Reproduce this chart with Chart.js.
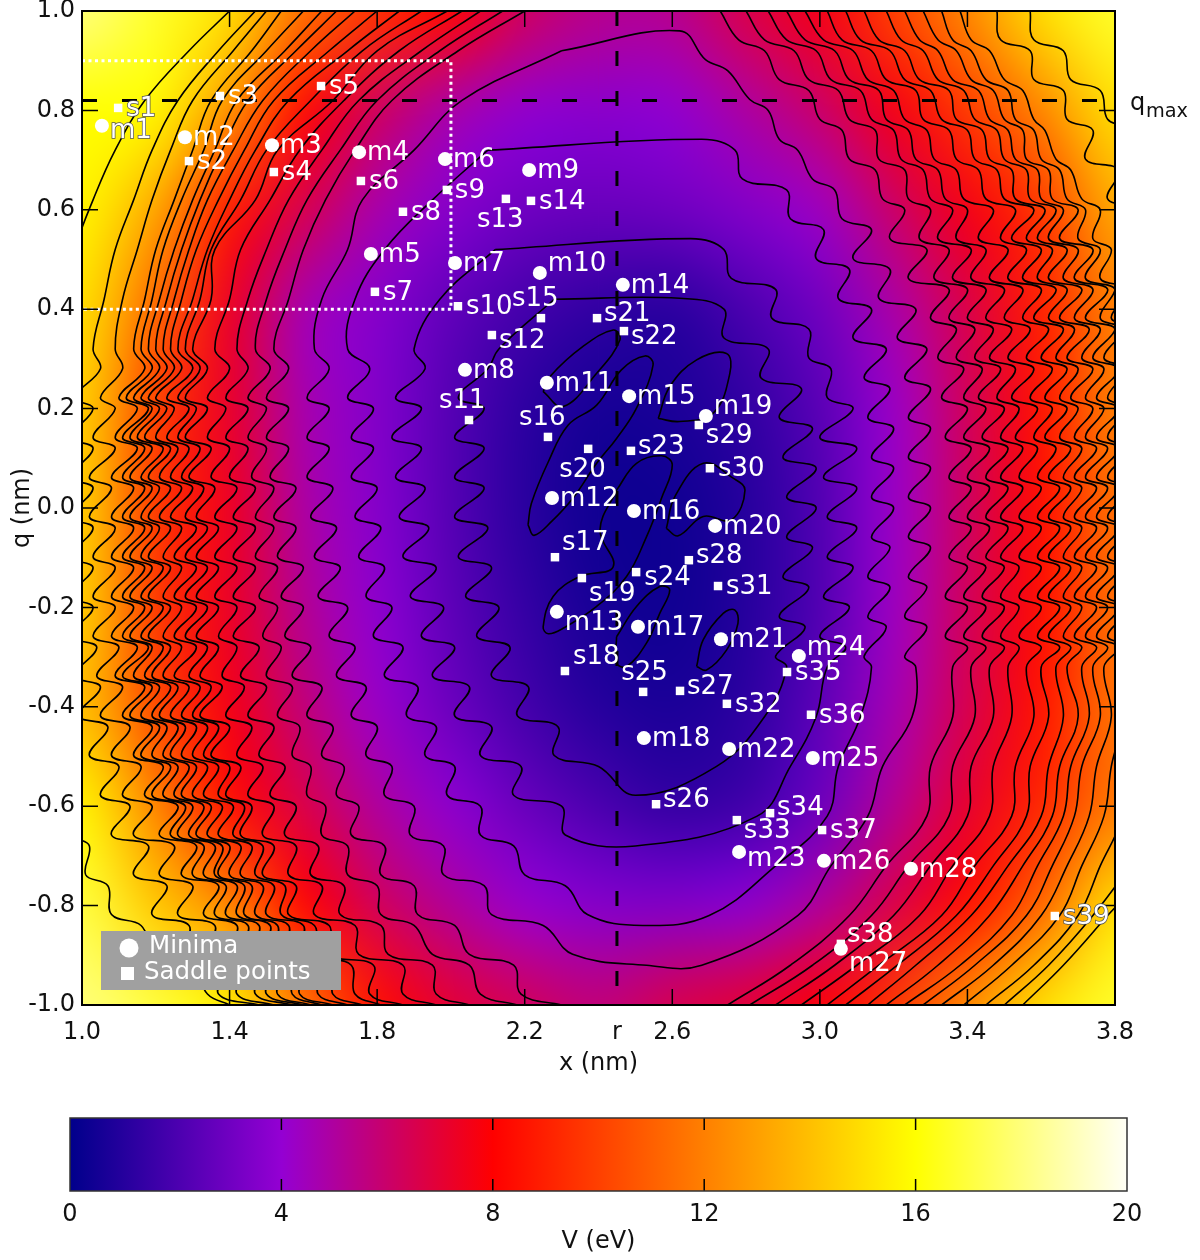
<!DOCTYPE html>
<html>
<head>
<meta charset="utf-8">
<script src="https://cdn.jsdelivr.net/npm/chart.js@4"></script>
<style>
  html, body { margin: 0; padding: 0; background: #fff; }
  #wrap { position: relative; width: 1200px; height: 1260px; }
  canvas { position: absolute; left: 0; }
</style>
</head>
<body>
<div id="wrap">
  <canvas id="main" width="1200" height="1085" style="top:0"></canvas>
  <canvas id="cbar" width="1200" height="170" style="top:1090px"></canvas>
</div>
<script>
// potential
const gridX = [1.0, 1.2, 1.4, 1.6, 1.8, 2.0, 2.2, 2.4, 2.6, 2.8, 3.0, 3.2, 3.4, 3.6, 3.8];
const gridQ = [1.0, 0.8, 0.6, 0.4, 0.2, 0.0, -0.2, -0.4, -0.6, -0.8, -1.0];
const gridV = [
  [18,16.7,15,11.5,9.5,8.2,6.2,5.3,5.3,6.6,7.6,10,12.3,15,16.7],
  [16,15.8,12.6,8.3,6.2,4.7,3.9,3.7,3.9,4.9,6,7.6,9.8,12.2,15],
  [15.7,13.2,8.8,6.5,4.7,3.6,3,2.8,3,3.5,4.3,6,7.6,9.7,13.3],
  [15,11.2,7.3,4.6,3.6,2.6,1.8,1.3,1.1,2,3,4.8,6.6,9,12],
  [14.5,10,7.2,4.7,3.5,2.3,1.2,.6,.7,1.3,2.4,4.2,6.3,8.6,12],
  [14.5,9.8,7.4,4.9,3.6,2.3,1.1,.4,.4,1,2.2,4.2,6.2,8.4,11.5],
  [14.5,9.8,7.3,5.2,3.8,2.5,1.4,.6,.4,1,2.2,4.3,6.3,8.4,11.5],
  [14,10.3,7.6,5.7,4.2,2.9,1.8,1,.7,1.2,2.5,4.6,6.5,8.6,11.6],
  [15.7,12.2,8.5,6.6,5,3.8,2.8,2,1.4,1.7,2.9,5.2,7.1,9.2,11.8],
  [17,14.3,12.2,8.2,6.3,5.1,4.1,3.6,3.5,3.8,5,6.6,8.5,11.2,15],
  [18,17,15.5,11.7,8.5,7,6.3,5.7,6.5,7,7.9,9.7,12.4,15,16.7]
];

const minimaNames = ['m1','m2','m3','m4','m5','m6','m7','m8','m9','m10','m11','m12','m13','m14','m15','m16','m17','m18','m19','m20','m21','m22','m23','m24','m25','m26','m27','m28'];
const minimaX = [1.054,1.279,1.515,1.751,1.783,1.984,2.011,2.038,2.212,2.241,2.260,2.274,2.287,2.466,2.483,2.496,2.507,2.523,2.691,2.716,2.732,2.754,2.781,2.943,2.981,3.011,3.057,3.247];
const minimaQ = [0.769,0.746,0.730,0.716,0.511,0.702,0.493,0.278,0.680,0.473,0.252,0.020,-0.209,0.449,0.225,-0.006,-0.239,-0.463,0.185,-0.036,-0.264,-0.485,-0.692,-0.298,-0.503,-0.710,-0.887,-0.726];

const saddleNames = ['s1','s2','s3','s4','s5','s6','s7','s8','s9','s10','s11','s12','s13','s14','s15','s16','s17','s18','s19','s20','s21','s22','s23','s24','s25','s26','s27','s28','s29','s30','s31','s32','s33','s34','s35','s36','s37','s38','s39'];
const saddleX = [1.098,1.290,1.374,1.520,1.648,1.756,1.794,1.870,1.989,2.019,2.049,2.111,2.149,2.217,2.244,2.263,2.282,2.309,2.355,2.372,2.396,2.469,2.488,2.502,2.521,2.556,2.621,2.645,2.672,2.702,2.724,2.748,2.775,2.865,2.911,2.976,3.006,3.057,3.637];
const saddleQ = [0.805,0.698,0.829,0.676,0.849,0.658,0.435,0.596,0.640,0.406,0.177,0.348,0.622,0.618,0.382,0.143,-0.099,-0.328,-0.141,0.119,0.382,0.356,0.115,-0.129,-0.370,-0.596,-0.368,-0.105,0.167,0.080,-0.157,-0.394,-0.628,-0.614,-0.330,-0.416,-0.648,-0.877,-0.821];

const qMax = 0.82;
const rValue = 2.45;
const boxX = [1.0, 2.0, 2.0, 1.0];
const boxQ = [0.9, 0.9, 0.4, 0.4];
const xTicks = [1.0, 1.4, 1.8, 2.2, 2.6, 3.0, 3.4, 3.8];
const qTicks = [1.0, 0.8, 0.6, 0.4, 0.2, 0.0, -0.2, -0.4, -0.6, -0.8, -1.0];
const cbarTicks = [0, 4, 8, 12, 16, 20];
const cbarStops = [0, 4, 8, 16, 20];
const cbarColors = ['#00008b', '#9400d3', '#ff0000', '#ffff00', '#fffff6'];

// contour lines, traced by eye: x of each line at the q rows below
const leftRows = [1,.92,.82,.72,.62,.52,.42,.32,.28,.222,.2,.142,.12,.062,.04,-.018,-.04,-.098,-.12,-.178,-.2,-.258,-.28,-.338,-.36,-.418,-.44,-.498,-.52,-.578,-.6,-.658,-.68,-.738,-.76,-.818,-.84,-.898,-.92,-.978,-1];
const rightRows = [1,.942,.92,.862,.84,.782,.76,.702,.68,.622,.6,.542,.52,.462,.44,.382,.36,.302,.28,.222,.2,.142,.12,.062,.04,-.018,-.04,-.098,-.12,-.178,-.2,-.258,-.28,-.32,-.42,-.52,-.62,-.72,-.82,-.92,-1];
const rightRowsInner = [1,.96,.902,.88,.822,.8,.742,.72,.662,.64,.582,.56,.502,.48,.422,.4,.342,.32,.262,.24,.182,.16,.102,.08,.022,0,-.058,-.08,-.138,-.16,-.218,-.24,-.298,-.32,-.42,-.52,-.62,-.72,-.82,-.92,-1];

const left16 = [1.40,1.29,1.17,1.09,1.03,.98,.95,.93,.92,.90,.92,.90,.92,.90,.92,.90,.92,.90,.92,.90,.92,.90,.92,.90,.92,.90,.93,.93,.96,.95,.99,.98,1.02,1.01,1.07,1.08,1.16,1.2,1.3,1.34,1.4];
const left14 = [1.47,1.37,1.26,1.19,1.14,1.09,1.06,1.03,1.05,.98,1.03,.97,1.03,.97,1.03,.97,1.03,.97,1.03,.97,1.03,.97,1.04,.98,1.05,.99,1.07,1.02,1.10,1.05,1.13,1.08,1.18,1.14,1.23,1.19,1.29,1.28,1.39,1.37,1.48];
const left13 = [1.50,1.41,1.30,1.24,1.19,1.15,1.11,1.09,1.11,1.05,1.09,1.03,1.09,1.02,1.08,1.02,1.09,1.03,1.09,1.03,1.09,1.03,1.10,1.04,1.11,1.05,1.13,1.08,1.16,1.11,1.19,1.14,1.25,1.21,1.30,1.26,1.36,1.34,1.44,1.42,1.52];
const left12 = [1.54,1.46,1.35,1.3,1.25,1.2,1.17,1.14,1.17,1.10,1.15,1.09,1.15,1.08,1.14,1.08,1.14,1.08,1.14,1.08,1.14,1.08,1.15,1.09,1.17,1.11,1.19,1.14,1.22,1.17,1.26,1.21,1.31,1.27,1.37,1.33,1.42,1.40,1.49,1.47,1.57];
const left115 = [1.6,1.5,1.38,1.33,1.27,1.22,1.19,1.16,1.19,1.12,1.18,1.11,1.17,1.11,1.17,1.11,1.17,1.11,1.17,1.11,1.17,1.11,1.18,1.11,1.19,1.13,1.21,1.16,1.24,1.19,1.28,1.24,1.33,1.30,1.39,1.36,1.45,1.43,1.52,1.50,1.60];
const left11 = [1.65,1.55,1.42,1.36,1.3,1.25,1.21,1.18,1.21,1.14,1.19,1.13,1.19,1.13,1.19,1.13,1.19,1.13,1.19,1.13,1.19,1.13,1.19,1.14,1.21,1.16,1.23,1.19,1.26,1.22,1.3,1.26,1.36,1.33,1.42,1.39,1.48,1.46,1.55,1.53,1.62];
const left105 = [1.69,1.58,1.45,1.38,1.32,1.27,1.23,1.2,1.23,1.16,1.21,1.15,1.22,1.16,1.21,1.16,1.21,1.16,1.22,1.16,1.22,1.16,1.22,1.17,1.24,1.19,1.26,1.22,1.29,1.25,1.33,1.29,1.38,1.36,1.44,1.42,1.51,1.49,1.58,1.57,1.65];
const left10 = [1.74,1.62,1.49,1.41,1.34,1.29,1.25,1.22,1.25,1.18,1.23,1.17,1.24,1.18,1.24,1.18,1.24,1.18,1.24,1.18,1.24,1.18,1.24,1.19,1.26,1.21,1.28,1.24,1.31,1.27,1.35,1.31,1.4,1.37,1.46,1.44,1.53,1.52,1.61,1.59,1.68];
const left95 = [1.8,1.67,1.52,1.44,1.37,1.31,1.27,1.24,1.27,1.2,1.25,1.2,1.26,1.21,1.27,1.21,1.27,1.22,1.27,1.22,1.27,1.22,1.27,1.22,1.29,1.24,1.31,1.27,1.34,1.3,1.38,1.34,1.43,1.4,1.49,1.47,1.56,1.55,1.65,1.64,1.72];
const left9 = [1.86,1.72,1.56,1.47,1.4,1.34,1.3,1.26,1.3,1.23,1.29,1.23,1.29,1.24,1.3,1.24,1.31,1.25,1.31,1.25,1.31,1.25,1.31,1.25,1.32,1.27,1.34,1.3,1.37,1.33,1.41,1.37,1.46,1.43,1.52,1.5,1.6,1.59,1.69,1.68,1.76];
const left85 = [1.92,1.76,1.62,1.5,1.43,1.35,1.32,1.28,1.32,1.26,1.31,1.26,1.32,1.27,1.33,1.28,1.34,1.28,1.34,1.28,1.34,1.28,1.34,1.29,1.35,1.3,1.37,1.33,1.4,1.37,1.44,1.41,1.49,1.47,1.55,1.54,1.63,1.64,1.73,1.74,1.81];
const left8 = [1.99,1.80,1.68,1.53,1.47,1.36,1.35,1.30,1.34,1.28,1.34,1.28,1.35,1.29,1.36,1.31,1.37,1.31,1.37,1.31,1.37,1.31,1.37,1.32,1.38,1.32,1.4,1.35,1.43,1.39,1.46,1.43,1.52,1.49,1.58,1.56,1.67,1.67,1.79,1.78,1.87];
const left75 = [2.03,1.86,1.71,1.59,1.51,1.43,1.4,1.36,1.4,1.34,1.39,1.34,1.4,1.35,1.42,1.36,1.42,1.36,1.42,1.36,1.42,1.37,1.42,1.38,1.44,1.39,1.46,1.42,1.49,1.45,1.52,1.49,1.58,1.56,1.65,1.63,1.74,1.75,1.87,1.87,1.96];
const left7 = [2.08,1.92,1.75,1.65,1.56,1.5,1.45,1.42,1.45,1.39,1.45,1.39,1.45,1.4,1.47,1.41,1.47,1.41,1.47,1.41,1.47,1.41,1.48,1.43,1.5,1.45,1.52,1.48,1.55,1.51,1.58,1.55,1.64,1.62,1.71,1.7,1.81,1.83,1.95,1.96,2.05];
const left65 = [2.14,1.97,1.8,1.7,1.61,1.55,1.5,1.47,1.51,1.45,1.5,1.45,1.5,1.46,1.52,1.47,1.52,1.47,1.53,1.48,1.53,1.49,1.54,1.5,1.57,1.53,1.59,1.57,1.62,1.61,1.66,1.65,1.72,1.72,1.8,1.81,1.9,1.95,2.05,2.08,2.18];
const left6 = [2.2,2.02,1.84,1.74,1.66,1.6,1.56,1.52,1.56,1.5,1.56,1.5,1.56,1.51,1.58,1.52,1.58,1.53,1.6,1.54,1.6,1.55,1.62,1.57,1.65,1.61,1.68,1.65,1.71,1.69,1.75,1.73,1.82,1.81,1.9,1.91,2.01,2.05,2.17,2.19,2.3];

const right14 = [3.57,3.58,3.66,3.68,3.76,3.78,3.84,3.84,3.9,3.9,3.95,3.95,3.95,3.95,3.95,3.95,3.95,3.95,3.95,3.95,3.95,3.95,3.95,3.95,3.95,3.95,3.95,3.95,3.95,3.95,3.95,3.95,3.95,3.95,3.95,3.95,3.95,3.9,3.78,3.66,3.55];
const right13 = [3.48,3.49,3.57,3.58,3.66,3.67,3.74,3.72,3.81,3.78,3.87,3.84,3.9,3.95,3.95,3.95,3.95,3.95,3.95,3.95,3.95,3.95,3.95,3.95,3.95,3.95,3.95,3.95,3.95,3.95,3.95,3.95,3.95,3.95,3.95,3.95,3.92,3.84,3.74,3.62,3.5];
const right12 = [3.38,3.41,3.46,3.5,3.55,3.58,3.61,3.64,3.68,3.71,3.76,3.74,3.79,3.76,3.84,3.79,3.86,3.8,3.86,3.8,3.87,3.81,3.87,3.82,3.88,3.82,3.88,3.82,3.88,3.82,3.88,3.82,3.88,3.84,3.86,3.83,3.82,3.76,3.7,3.58,3.45];
const right115 = [3.33,3.36,3.41,3.45,3.51,3.53,3.58,3.6,3.65,3.67,3.72,3.7,3.76,3.72,3.8,3.76,3.82,3.77,3.83,3.78,3.83,3.78,3.84,3.78,3.84,3.78,3.84,3.78,3.84,3.78,3.84,3.78,3.84,3.8,3.82,3.79,3.77,3.71,3.65,3.52,3.39];
const right11 = [3.28,3.32,3.37,3.41,3.47,3.5,3.55,3.56,3.62,3.63,3.7,3.65,3.74,3.69,3.78,3.72,3.8,3.74,3.81,3.75,3.81,3.75,3.81,3.75,3.81,3.75,3.81,3.75,3.81,3.75,3.81,3.75,3.81,3.77,3.79,3.75,3.73,3.67,3.6,3.47,3.33];
const right105 = [3.23,3.27,3.32,3.36,3.43,3.46,3.51,3.53,3.59,3.6,3.66,3.62,3.7,3.66,3.74,3.69,3.76,3.71,3.77,3.72,3.77,3.72,3.78,3.72,3.78,3.72,3.78,3.72,3.78,3.72,3.78,3.72,3.78,3.74,3.76,3.71,3.69,3.63,3.56,3.42,3.28];
const right10 = [3.18,3.22,3.28,3.32,3.39,3.42,3.48,3.5,3.56,3.57,3.64,3.59,3.67,3.62,3.71,3.65,3.73,3.67,3.74,3.68,3.74,3.69,3.75,3.69,3.75,3.69,3.75,3.69,3.75,3.69,3.75,3.69,3.75,3.71,3.73,3.68,3.66,3.59,3.52,3.38,3.23];
const right95 = [3.12,3.16,3.23,3.27,3.35,3.37,3.44,3.46,3.52,3.53,3.61,3.56,3.63,3.59,3.67,3.62,3.69,3.64,3.7,3.65,3.7,3.65,3.71,3.66,3.71,3.66,3.71,3.66,3.71,3.66,3.71,3.66,3.71,3.67,3.7,3.65,3.63,3.55,3.46,3.32,3.18];
const right9 = [3.07,3.11,3.19,3.23,3.3,3.33,3.4,3.42,3.48,3.5,3.58,3.52,3.6,3.55,3.64,3.58,3.66,3.6,3.67,3.61,3.67,3.61,3.68,3.62,3.68,3.62,3.68,3.62,3.68,3.62,3.68,3.62,3.68,3.64,3.66,3.62,3.6,3.51,3.41,3.26,3.13];
const right85 = [3.02,3.06,3.14,3.18,3.26,3.28,3.35,3.37,3.43,3.45,3.53,3.49,3.56,3.51,3.6,3.55,3.62,3.56,3.63,3.57,3.63,3.58,3.64,3.59,3.65,3.59,3.65,3.59,3.65,3.59,3.65,3.59,3.65,3.6,3.62,3.57,3.56,3.47,3.37,3.21,3.07];
const right8 = [2.96,3.01,3.09,3.13,3.2,3.23,3.29,3.31,3.37,3.39,3.47,3.43,3.51,3.46,3.55,3.5,3.57,3.51,3.58,3.52,3.59,3.53,3.59,3.54,3.6,3.54,3.6,3.54,3.6,3.54,3.6,3.54,3.6,3.56,3.58,3.53,3.52,3.42,3.33,3.16,3.02];
const right75 = [2.91,2.96,3.04,3.08,3.16,3.18,3.24,3.26,3.32,3.34,3.4,3.37,3.45,3.41,3.5,3.45,3.52,3.46,3.53,3.48,3.54,3.49,3.55,3.49,3.55,3.49,3.55,3.49,3.54,3.49,3.54,3.49,3.54,3.51,3.52,3.47,3.46,3.36,3.27,3.1,2.95];
const right7 = [2.86,2.91,2.99,3.03,3.11,3.14,3.2,3.22,3.28,3.3,3.36,3.32,3.41,3.36,3.45,3.4,3.47,3.42,3.49,3.43,3.5,3.44,3.51,3.45,3.51,3.45,3.51,3.45,3.5,3.44,3.5,3.44,3.5,3.46,3.47,3.41,3.4,3.3,3.2,3.04,2.88];
const right65 = [2.8,2.85,2.93,2.97,3.05,3.08,3.15,3.16,3.23,3.24,3.3,3.27,3.35,3.31,3.4,3.35,3.42,3.37,3.44,3.39,3.45,3.39,3.46,3.4,3.46,3.4,3.46,3.4,3.45,3.39,3.45,3.39,3.45,3.41,3.42,3.36,3.35,3.24,3.14,2.98,2.81];
const right6 = [2.73,2.78,2.85,2.89,2.97,3.0,3.06,3.08,3.15,3.17,3.23,3.19,3.29,3.24,3.35,3.3,3.37,3.32,3.39,3.33,3.4,3.34,3.41,3.35,3.41,3.35,3.41,3.35,3.4,3.34,3.4,3.34,3.4,3.36,3.36,3.3,3.29,3.18,3.08,2.92,2.75];

// closed loops, each with the row its left and right parts start on
const loop5L = [2.3,2.03,1.9,1.76,1.72,1.65,1.63,1.67,1.61,1.67,1.61,1.67,1.61,1.68,1.62,1.69,1.63,1.7,1.64,1.72,1.67,1.74,1.69,1.77,1.73,1.8,1.77,1.84,1.82,1.9,1.89,1.98,1.98,2.09,2.11,2.25,2.33,2.53];
const loop5R = [2.62,2.69,2.75,2.81,2.86,2.89,2.94,2.98,3.04,3.06,3.14,3.09,3.19,3.16,3.26,3.21,3.29,3.23,3.3,3.24,3.3,3.24,3.3,3.24,3.3,3.24,3.3,3.24,3.29,3.23,3.29,3.23,3.26,3.25,3.17,3.13,3.03,2.94,2.68];
const loop4L = [2.1,1.95,1.82,1.74,1.72,1.78,1.72,1.79,1.73,1.79,1.73,1.8,1.74,1.81,1.75,1.82,1.77,1.84,1.79,1.87,1.82,1.91,1.88,1.96,1.93,2.01,1.99,2.08,2.08,2.17,2.2,2.31,2.37,2.52];
const loop4R = [2.68,2.77,2.79,2.91,2.92,3.01,2.99,3.08,3.05,3.14,3.09,3.18,3.12,3.19,3.13,3.2,3.14,3.2,3.14,3.2,3.14,3.19,3.13,3.19,3.13,3.18,3.12,3.14,3.11,3.05,3.02,2.88,2.7];
const loop3L = [2.12,1.97,1.9,1.93,1.85,1.92,1.84,1.92,1.85,1.93,1.86,1.94,1.87,1.96,1.89,1.98,1.92,2.01,1.95,2.05,2.01,2.11,2.08,2.19,2.17,2.3,2.31,2.5];
const loop3R = [2.65,2.74,2.76,2.88,2.87,2.97,2.97,3.03,3.02,3.09,3,3.1,3.01,3.1,3.02,3.1,3.02,3.09,3.01,3.08,3,3.07,3.02,2.99,2.92,2.83];
const loop2L = [2.28,2.13,2.1,2.02,2.09,2.01,2.09,2.01,2.09,2.01,2.1,2.02,2.11,2.04,2.13,2.07,2.16,2.11,2.21,2.18,2.29,2.28,2.4,2.5];
const loop2R = [2.62,2.74,2.74,2.86,2.84,2.95,2.89,2.98,2.9,2.99,2.91,2.99,2.91,2.98,2.9,2.97,2.89,2.96,2.88,2.91,2.85,2.72];

// small islands round the lowest minima, [x, q] pairs
const islands = [
  [2.209,-.034,2.225,-.055,2.273,-.027,2.331,.020,2.395,.090,2.449,.140,2.503,.201,2.548,.288,2.526,.306,2.462,.278,2.395,.207,2.318,.167,2.264,.093,2.218,.009],
  [2.449,.036,2.503,.090,2.571,.105,2.600,.087,2.571,.020,2.530,-.058,2.476,-.138,2.395,-.198,2.304,-.242,2.264,-.253,2.250,-.239,2.277,-.178,2.349,-.138,2.440,-.118,2.404,-.044],
  [2.584,-.041,2.607,.023,2.684,.090,2.765,.060,2.797,.036,2.760,-.024,2.684,-.017,2.616,-.056],
  [2.666,-.319,2.684,-.265,2.738,-.212,2.769,-.205,2.778,-.232,2.747,-.286,2.693,-.326],
  [2.449,-.259,2.503,-.198,2.566,-.158,2.593,-.165,2.566,-.212,2.530,-.272,2.476,-.319,2.449,-.312],
  [2.562,.180,2.593,.244,2.666,.298,2.747,.311,2.756,.271,2.711,.191,2.620,.174],
  [2.25,.234,2.268,.264,2.358,.325,2.44,.358,2.458,.338,2.395,.271,2.304,.204]
];

// label offsets from the marker, px, where it isn't the default right side
const labelOffset = {
  m1:[8,5], m10:[8,-9], m13:[8,11], m19:[8,-9], m23:[8,7], m24:[8,-8], m27:[8,15],
  s11:[-30,-19], s12:[7,6], s13:[-29,21], s15:[-29,-19], s16:[-29,-19], s17:[7,-14], s18:[8,-14],
  s19:[7,16], s20:[-29,21], s21:[7,-4], s22:[7,6], s23:[7,-4], s24:[8,6], s25:[-22,-19], s26:[7,-4],
  s27:[7,-4], s28:[7,-4], s29:[7,11], s33:[7,11], s34:[7,-5], s38:[6,-9]
};
const outlined = ['m1', 's1', 's39'];

function mapColor(v) {
  let i = 0;
  while (i < cbarStops.length - 2 && v > cbarStops[i + 1]) i++;
  const t = Math.min(1, Math.max(0, (v - cbarStops[i]) / (cbarStops[i + 1] - cbarStops[i])));
  const a = cbarColors[i], b = cbarColors[i + 1];
  const ch = (s, k) => parseInt(s.substr(1 + k * 2, 2), 16);
  return [0, 1, 2].map(k => Math.round(ch(a, k) + (ch(b, k) - ch(a, k)) * t));
}

const heatPlugin = {
  id: 'heat',
  beforeDatasetsDraw(chart) {
    const { ctx, chartArea: ca, scales: { x, y } } = chart;
    const nx = gridX.length, ny = gridQ.length;
    const off = document.createElement('canvas');
    off.width = nx; off.height = ny;
    const oc = off.getContext('2d');
    const img = oc.createImageData(nx, ny);
    gridV.forEach((row, j) => row.forEach((v, i) => {
      const c = mapColor(v), p = (j * nx + i) * 4;
      img.data[p] = c[0]; img.data[p + 1] = c[1]; img.data[p + 2] = c[2]; img.data[p + 3] = 255;
    }));
    oc.putImageData(img, 0, 0);
    const dx = x.getPixelForValue(gridX[1]) - x.getPixelForValue(gridX[0]);
    const dy = y.getPixelForValue(gridQ[1]) - y.getPixelForValue(gridQ[0]);
    ctx.save();
    ctx.beginPath();
    ctx.rect(ca.left, ca.top, ca.width, ca.height);
    ctx.clip();
    ctx.imageSmoothingEnabled = true;
    ctx.imageSmoothingQuality = 'high';
    ctx.drawImage(off, x.getPixelForValue(gridX[0]) - dx / 2, y.getPixelForValue(gridQ[0]) - dy / 2, dx * nx, dy * ny);
    ctx.restore();
  }
};

const decorPlugin = {
  id: 'decor',
  afterDatasetsDraw(chart) {
    const { ctx, chartArea: ca, scales: { x, y } } = chart;
    ctx.save();
    // inner ticks on all four sides
    ctx.strokeStyle = '#000';
    ctx.lineWidth = 1.5;
    ctx.beginPath();
    xTicks.slice(1, -1).forEach(v => {
      const p = x.getPixelForValue(v);
      ctx.moveTo(p, ca.top); ctx.lineTo(p, ca.top + 16);
      ctx.moveTo(p, ca.bottom); ctx.lineTo(p, ca.bottom - 16);
    });
    qTicks.slice(1, -1).forEach(v => {
      const p = y.getPixelForValue(v);
      ctx.moveTo(ca.left, p); ctx.lineTo(ca.left + 16, p);
      ctx.moveTo(ca.right, p); ctx.lineTo(ca.right - 16, p);
    });
    ctx.stroke();
    ctx.lineWidth = 2;
    ctx.strokeRect(ca.left, ca.top, ca.width, ca.height);

    // marker labels
    ctx.font = '26px "DejaVu Sans"';
    ctx.textBaseline = 'middle';
    ctx.textAlign = 'left';
    const put = (names, xs, qs) => names.forEach((n, i) => {
      const o = labelOffset[n] || [8, 1];
      const px = x.getPixelForValue(xs[i]) + o[0], py = y.getPixelForValue(qs[i]) + o[1];
      if (outlined.includes(n)) {
        ctx.lineWidth = 1.5;
        ctx.strokeStyle = '#555';
        ctx.strokeText(n, px, py);
      }
      ctx.fillStyle = '#fff';
      ctx.fillText(n, px, py);
    });
    put(minimaNames, minimaX, minimaQ);
    put(saddleNames, saddleX, saddleQ);

    // legend box
    ctx.fillStyle = '#a0a0a0';
    ctx.fillRect(ca.left + 19, ca.bottom - 74, 240, 59);
    ctx.fillStyle = '#fff';
    ctx.beginPath();
    ctx.arc(ca.left + 47, ca.bottom - 57, 9.5, 0, Math.PI * 2);
    ctx.fill();
    ctx.fillRect(ca.left + 39, ca.bottom - 38, 13, 13);
    ctx.font = '24.5px "DejaVu Sans"';
    ctx.fillText('Minima', ca.left + 67, ca.bottom - 58);
    ctx.fillText('Saddle points', ca.left + 62, ca.bottom - 32);

    // q_max label outside the frame
    ctx.fillStyle = '#111';
    const qy = y.getPixelForValue(qMax);
    ctx.textBaseline = 'alphabetic';
    ctx.font = '24px "DejaVu Sans"';
    ctx.fillText('q', ca.right + 15, qy + 10);
    ctx.font = '19.3px "DejaVu Sans"';
    ctx.fillText('max', ca.right + 31, qy + 17);
    ctx.restore();
  }
};

const lineStyle = { showLine: true, pointRadius: 0, fill: false, tension: 0 };
const contourStyle = { showLine: true, pointRadius: 0, fill: false, tension: 0.4, borderColor: '#000', borderWidth: 1.6 };
const toXY = (xs, qs) => xs.map((v, i) => ({ x: v, y: qs[i] }));

const branches = [
  left16, left14, left13, left12, left115, left11, left105, left10, left95, left9, left85, left8, left75, left7, left65, left6
].map(xs => ({ ...contourStyle, data: toXY(xs, leftRows) })).concat([
  right14, right13, right12, right115, right11, right105, right10, right95, right9, right85, right8, right75, right7, right65, right6
].map(xs => ({ ...contourStyle, data: toXY(xs, rightRows) })));

const loops = [
  [loop5L, 1, loop5R, 1, rightRowsInner], [loop4L, 3, loop4R, 6, rightRowsInner],
  [loop3L, 5, loop3R, 11, rightRows], [loop2L, 6, loop2R, 14, rightRowsInner]
].map(([lx, li, rx, ri, rows]) => {
  const pts = toXY(lx, leftRows.slice(li)).concat(toXY(rx, rows.slice(ri)).reverse());
  pts.push(pts[0]);
  return { ...contourStyle, data: pts };
});

const islandSets = islands.map(flat => {
  const pts = [];
  for (let i = 0; i < flat.length; i += 2) pts.push({ x: flat[i], y: flat[i + 1] });
  pts.push(pts[0]);
  return { ...contourStyle, data: pts };
});

const axisFont = { family: 'DejaVu Sans', size: 24 };

new Chart(document.getElementById('main'), {
  type: 'scatter',
  data: {
    datasets: [
      { data: toXY(minimaX, minimaQ), pointStyle: 'circle', pointRadius: 7, backgroundColor: '#fff', borderWidth: 0 },
      { data: toXY(saddleX, saddleQ), pointStyle: 'rect', pointRadius: 6, backgroundColor: '#fff', borderWidth: 0 },
      { ...lineStyle, data: toXY(boxX, boxQ), borderColor: '#fff', borderWidth: 3, borderDash: [3, 3.5] },
      { ...lineStyle, data: toXY([1.0, 3.8], [qMax, qMax]), borderColor: '#000', borderWidth: 3, borderDash: [15, 25] },
      { ...lineStyle, data: toXY([rValue, rValue], [1.0, -1.0]), borderColor: '#000', borderWidth: 3, borderDash: [15, 25] },
      ...islandSets, ...loops, ...branches
    ]
  },
  options: {
    responsive: false,
    animation: false,
    devicePixelRatio: 1,
    layout: { padding: { left: 8, right: 85, top: 11, bottom: 7 } },
    plugins: { legend: { display: false }, tooltip: { enabled: false } },
    scales: {
      x: {
        type: 'linear', min: 1.0, max: 3.8,
        grid: { display: false, drawTicks: false }, border: { display: false },
        afterBuildTicks: s => { s.ticks = xTicks.concat([rValue]).sort((a, b) => a - b).map(v => ({ value: v })); },
        afterFit: s => { s.height = 73; s.paddingLeft = 0; s.paddingRight = 0; },
        ticks: {
          color: '#111', font: axisFont, padding: 13, maxRotation: 0, autoSkip: false,
          callback: v => (v === rValue ? 'r' : v.toFixed(1))
        },
        title: { display: true, text: 'x (nm)', color: '#111', font: axisFont, padding: { top: 0, bottom: 0 } }
      },
      y: {
        type: 'linear', min: -1.0, max: 1.0,
        grid: { display: false, drawTicks: false }, border: { display: false },
        afterBuildTicks: s => { s.ticks = qTicks.map(v => ({ value: v })); },
        afterFit: s => { s.width = 74; s.paddingTop = 0; s.paddingBottom = 0; },
        ticks: { color: '#111', font: axisFont, padding: 7, autoSkip: false, callback: v => v.toFixed(1) },
        title: { display: true, text: 'q (nm)', color: '#111', font: axisFont, padding: { top: 0, bottom: 0 } }
      }
    }
  },
  plugins: [heatPlugin, decorPlugin]
});

// colour bar
const cbarPlugin = {
  id: 'cbarFill',
  beforeDatasetsDraw(chart) {
    const { ctx, chartArea: ca, scales: { x } } = chart;
    const g = ctx.createLinearGradient(ca.left, 0, ca.right, 0);
    cbarStops.forEach((v, i) => g.addColorStop((x.getPixelForValue(v) - ca.left) / ca.width, cbarColors[i]));
    ctx.fillStyle = g;
    ctx.fillRect(ca.left, ca.top, ca.width, ca.height);
  },
  afterDatasetsDraw(chart) {
    const { ctx, chartArea: ca, scales: { x } } = chart;
    ctx.save();
    ctx.strokeStyle = '#000';
    ctx.lineWidth = 1.5;
    ctx.beginPath();
    cbarTicks.slice(1, -1).forEach(v => {
      const p = x.getPixelForValue(v);
      ctx.moveTo(p, ca.top); ctx.lineTo(p, ca.top + 12);
      ctx.moveTo(p, ca.bottom); ctx.lineTo(p, ca.bottom - 12);
    });
    ctx.stroke();
    ctx.strokeStyle = '#333';
    ctx.strokeRect(ca.left, ca.top, ca.width, ca.height);
    ctx.restore();
  }
};

new Chart(document.getElementById('cbar'), {
  type: 'scatter',
  data: { datasets: [{ data: [], pointRadius: 0 }] },
  options: {
    responsive: false,
    animation: false,
    devicePixelRatio: 1,
    layout: { padding: { left: 70, right: 73, top: 28, bottom: 4 } },
    plugins: { legend: { display: false }, tooltip: { enabled: false } },
    scales: {
      x: {
        type: 'linear', min: 0, max: 20,
        grid: { display: false, drawTicks: false }, border: { display: false },
        afterBuildTicks: s => { s.ticks = cbarTicks.map(v => ({ value: v })); },
        afterFit: s => { s.height = 65; },
        ticks: { color: '#111', font: axisFont, padding: 9, maxRotation: 0, autoSkip: false },
        title: { display: true, text: 'V (eV)', color: '#111', font: axisFont, padding: { top: 0, bottom: 0 } }
      },
      y: { display: false, min: 0, max: 1 }
    }
  },
  plugins: [cbarPlugin]
});
</script>
</body>
</html>
